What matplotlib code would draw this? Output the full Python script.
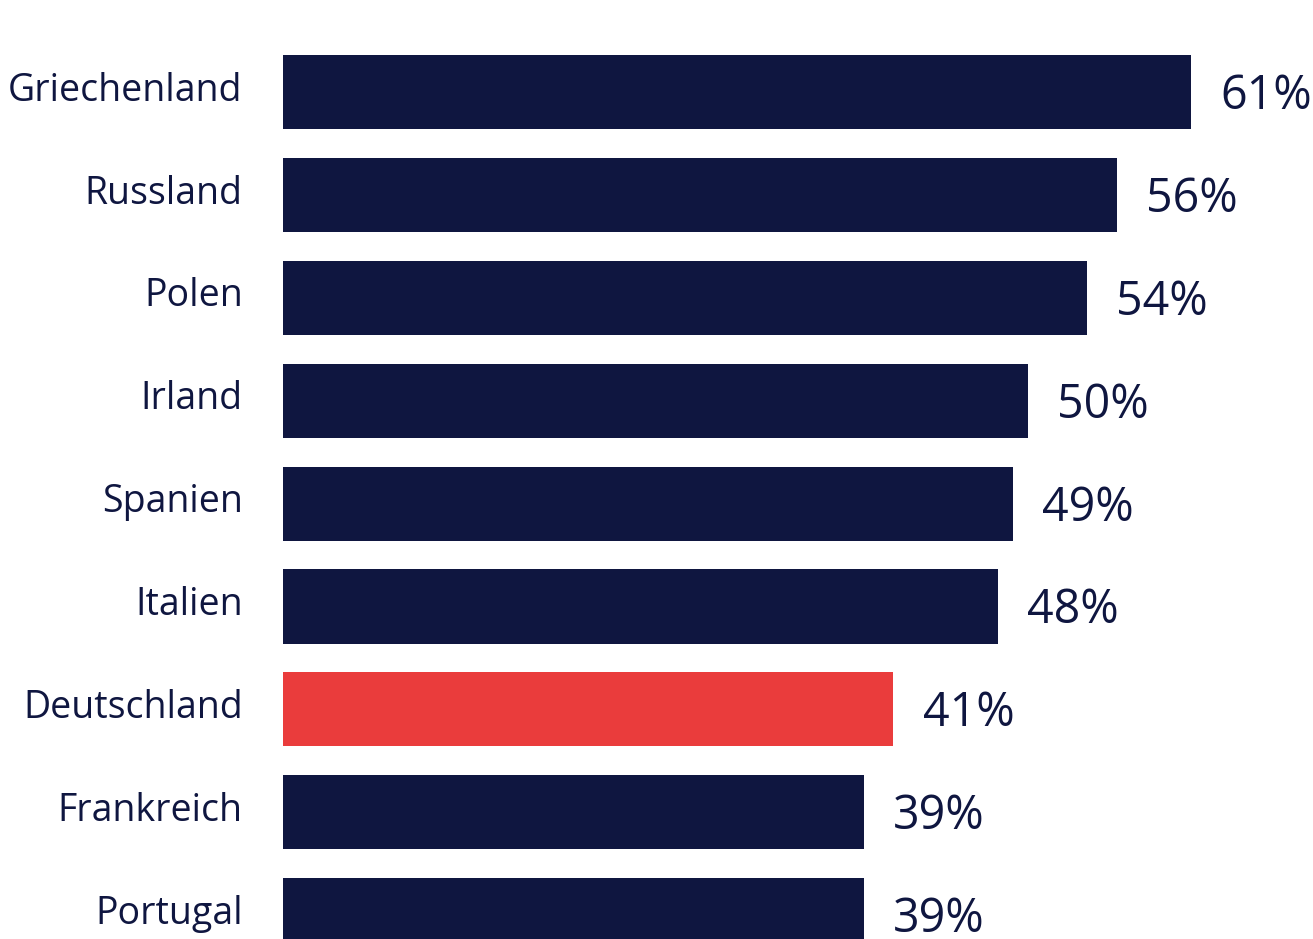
import matplotlib
matplotlib.use('Agg')
from matplotlib import pyplot as plt

plt.rcParams['font.family'] = ['Open Sans', 'DejaVu Sans']

## Daten
laender = ['Griechenland', 'Russland', 'Polen', 'Irland', 'Spanien',
           'Italien', 'Deutschland', 'Frankreich', 'Portugal']
werte = [61, 56, 54, 50, 49, 48, 41, 39, 39]
hervorheben = 'Deutschland'

navy = '#0f1640'
rot = '#ea3c3c'
farben = [rot if l == hervorheben else navy for l in laender]

W, H = 1313, 939
fig = plt.figure(figsize=(W/100, H/100), dpi=100)
ax = fig.add_axes([283/W, 0, 1 - 283/W, 1])

pos = list(range(len(laender)))
ax.barh(pos, werte, height=0.72, color=farben)

# Werte neben den Balken
for y, v in zip(pos, werte):
    ax.annotate('%d%%' % v, (v, y), xytext=(21, -3), textcoords='offset points',
                va='center', ha='left', fontsize=33.5, color=navy,
                annotation_clip=False)

# Laendernamen links
for y, l in zip(pos, laender):
    ax.annotate(l, (0, y), xytext=(-29, 1), textcoords='offset points',
                va='center', ha='right', fontsize=27, color=navy,
                annotation_clip=False)

ax.set_xlim(0, (W - 283) / 14.89)
ax.set_ylim((H - 92) / 102.9, -92 / 102.9)

ax.set_xticks([])
ax.set_yticks([])
for s in ax.spines.values():
    s.set_visible(False)

fig.savefig('out.png', dpi=100)
